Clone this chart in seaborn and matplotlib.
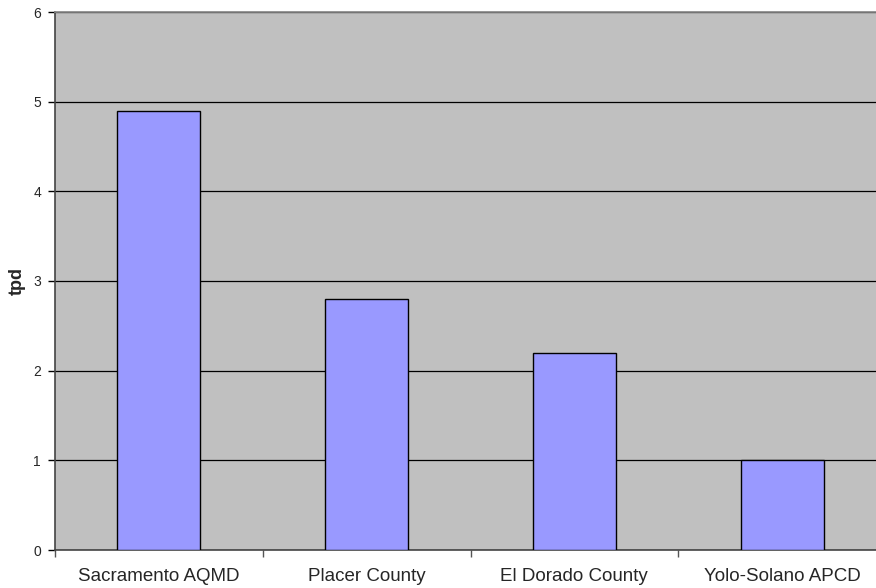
import matplotlib
matplotlib.use("Agg")
import matplotlib.pyplot as plt
import seaborn as sns
import pandas as pd
import numpy as np

categories = ["Sacramento AQMD", "Placer County", "El Dorado County", "Yolo-Solano APCD"]
values = [4.9, 2.8, 2.2, 1.0]
y_ticks = [0, 1, 2, 3, 4, 5, 6]

sns.set_theme(style="white")
plt.rcParams['font.family'] = ['Liberation Sans', 'DejaVu Sans']

df = pd.DataFrame({"region": categories, "tpd": values})

fig = plt.figure(figsize=(8.76, 5.88), dpi=100)
ax = fig.add_axes([55/876, 1 - 550/588, 831/876, 538/588])
ax.set_facecolor("#C0C0C0")

sns.barplot(data=df, x="region", y="tpd", ax=ax, color="#9999FF",
            saturation=1, width=0.4, edgecolor="black", linewidth=1, zorder=3)

ax.set_ylim(0, 6)
ax.set_xlim(-0.5, len(categories) - 0.5)
ax.set_yticks(y_ticks)
ax.set_yticklabels([str(t) for t in y_ticks], fontsize=10)
ax.yaxis.grid(True, color="black", linewidth=0.9, zorder=1)
ax.set_axisbelow(True)

ax.set_xticks(range(len(categories)))
ax.set_xticklabels(categories, fontsize=13.5)
ax.tick_params(axis="x", which="major", length=0, pad=13)
ax.set_xticks(np.arange(-0.5, len(categories), 1.0), minor=True)
ax.tick_params(axis="x", which="minor", length=5, color="#555555", width=1, direction="out", bottom=True)
ax.tick_params(axis="y", length=5, color="black", width=1, direction="out", left=True, pad=5)

ax.set_xlabel("")
ax.set_ylabel("tpd", fontsize=13, fontweight="bold")
ax.yaxis.set_label_coords(-(55 - 26) / 831, 0.5)

for side in ["left", "bottom"]:
    ax.spines[side].set_color("#444444")
    ax.spines[side].set_linewidth(1.2)
ax.spines["top"].set_color("#888888")
ax.spines["right"].set_visible(False)

fig.savefig("out.png", dpi=100)
